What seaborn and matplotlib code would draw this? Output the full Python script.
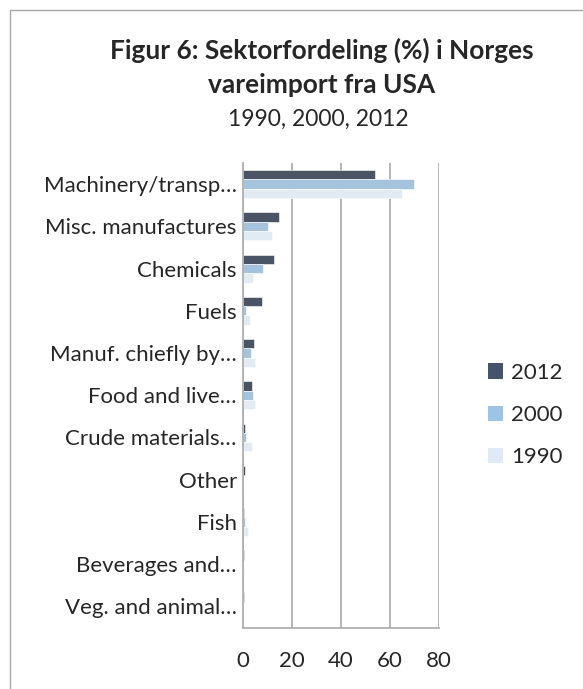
import matplotlib
matplotlib.use("Agg")
import matplotlib.pyplot as plt
import seaborn as sns
import pandas as pd
from matplotlib.patches import Rectangle, Patch

categories = ["Machinery/transp…", "Misc. manufactures", "Chemicals", "Fuels",
              "Manuf. chiefly by…", "Food and live…", "Crude materials…", "Other",
              "Fish", "Beverages and…", "Veg. and animal…"]
years = ["2012", "2000", "1990"]
v2012 = [54.0, 14.6, 12.7, 7.7, 4.3, 3.5, 0.8, 0.7, 0.5, 0.3, 0.4]
v2000 = [69.6, 10.3, 8.2, 1.1, 3.1, 4.2, 1.2, 0.1, 1.0, 0.2, 0.1]
v1990 = [65.0, 11.9, 4.2, 2.8, 4.9, 4.9, 3.5, 0.1, 2.0, 0.6, 0.1]
xticks = [0, 20, 40, 60, 80]
colors = ["#44546A", "#9DC3E6", "#DEEBF7"]

rows = []
for yr, vals in zip(years, [v2012, v2000, v1990]):
    for c, v in zip(categories, vals):
        rows.append({"cat": c, "year": yr, "val": v})
df = pd.DataFrame(rows)

sns.set_style("white")
plt.rcParams["font.family"] = ["Lato", "DejaVu Sans"]

fig = plt.figure(figsize=(5.83, 6.89), dpi=100)
ax = fig.add_axes([243/583, 1-627.5/689, (439-243)/583, (627.5-163)/689])

sns.barplot(data=df, y="cat", x="val", hue="year", hue_order=years, order=categories,
            palette=colors, orient="h", width=0.66, ax=ax, legend=False,
            edgecolor="white", linewidth=0.4)

ax.set_xlim(0, 80)
ax.set_xticks(xticks)
ax.set_xticklabels([str(t) for t in xticks], fontsize=16)
ax.set_xlabel("")
ax.set_ylabel("")
ax.tick_params(axis="x", length=0, pad=17)
ax.tick_params(axis="y", length=0, pad=4.5, labelsize=16)
ax.xaxis.grid(True, color="#B0B0B0", linewidth=1.3)
ax.set_axisbelow(True)
for s in ["top", "right"]:
    ax.spines[s].set_visible(False)
for s in ["left", "bottom"]:
    ax.spines[s].set_color("#B0B0B0")
    ax.spines[s].set_linewidth(1.3)

handles = [Patch(facecolor=c, edgecolor="none") for c in colors]
fig.legend(handles, years, loc="center left", bbox_to_anchor=(488/583, 1-415/689),
           frameon=False, fontsize=16, handlelength=0.68, handleheight=0.68,
           handletextpad=0.35, labelspacing=1.0, borderpad=0, borderaxespad=0)

fig.text(322/583, 1-50/689, "Figur 6: Sektorfordeling (%) i Norges", ha="center", va="center",
         fontsize=18.9, fontweight="bold")
fig.text(322/583, 1-85/689, "vareimport fra USA", ha="center", va="center",
         fontsize=18.9, fontweight="bold")
fig.text(318/583, 1-119/689, "1990, 2000, 2012", ha="center", va="center", fontsize=16.5)

fig.patches.append(Rectangle((10/583, -0.05), 1.2, 1-10/689+0.05, transform=fig.transFigure,
                             fill=False, edgecolor="#A6A6A6", linewidth=1.0))

fig.savefig("out.png", dpi=100)
